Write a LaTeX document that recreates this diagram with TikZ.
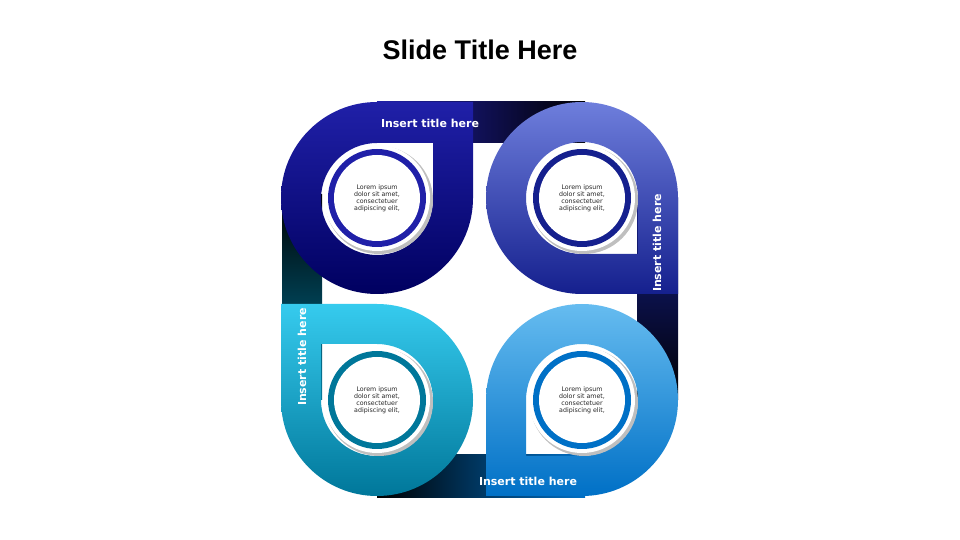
\documentclass[tikz,border=0pt]{standalone}
\usepackage{fontspec}
\setmainfont{DejaVu Sans}
\newfontfamily\headfont{Liberation Sans}
\definecolor{navyA}{HTML}{000060}
\definecolor{navyB}{HTML}{2020A8}
\definecolor{royalA}{HTML}{15208E}
\definecolor{royalB}{HTML}{6E7EDC}
\definecolor{skyA}{HTML}{0070C6}
\definecolor{skyB}{HTML}{66BCF0}
\definecolor{cyanA}{HTML}{00779A}
\definecolor{cyanB}{HTML}{36CBEE}
\tikzset{
  band/.style={draw=none},
  badge/.style={circle,fill=white,minimum size=86pt,inner sep=0pt,align=center,
    font=\fontsize{6.3}{7}\selectfont,text=black!85},
  ttl/.style={text=white,font=\bfseries\fontsize{11}{13}\selectfont}
}
\begin{document}
\begin{tikzpicture}[x=1pt,y=1pt]
\useasboundingbox (0,0) rectangle (960,540);
% Slide title
\node[font=\headfont\bfseries\fontsize{27}{30}\selectfont] (title) at (480,490) {Slide Title Here};
% Connecting bands
\shade[band,left color=navyB,right color=black] (377,397) rectangle (585,438);
\shade[band,top color=royalA,bottom color=black] (637,342) rectangle (678,140);
\shade[band,left color=black,right color=skyA] (377,42) rectangle (585,85);
\shade[band,top color=black,bottom color=cyanA] (282,140) rectangle (322,345);
% Pieces (outer teardrop minus inner teardrop)
\shade[even odd rule,shading angle=225,top color=navyB,bottom color=navyA]
  (473,342) -- (473,438) -- (377,438) arc[start angle=90,end angle=360,radius=96] -- cycle
  (433,342) -- (433,397) -- (377,397) arc[start angle=90,end angle=360,radius=56] -- cycle;
\shade[even odd rule,shading angle=135,top color=royalB,bottom color=royalA]
  (582,246) -- (678,246) -- (678,342) arc[start angle=0,end angle=270,radius=96] -- cycle
  (582,286) -- (638,286) -- (638,342) arc[start angle=0,end angle=270,radius=56] -- cycle;
\shade[even odd rule,shading angle=315,top color=skyB,bottom color=skyA]
  (486,140) -- (486,44) -- (582,44) arc[start angle=270,end angle=540,radius=96] -- cycle
  (526,140) -- (526,84) -- (582,84) arc[start angle=270,end angle=540,radius=56] -- cycle;
\shade[even odd rule,shading angle=45,top color=cyanB,bottom color=cyanA]
  (377,236) -- (281,236) -- (281,140) arc[start angle=180,end angle=450,radius=96] -- cycle
  (377,196) -- (321,196) -- (321,140) arc[start angle=180,end angle=450,radius=56] -- cycle;
% Badges
\foreach \n/\px/\py/\col in {tl/377/342/navyB, tr/582/342/royalA, br/582/140/skyA, bl/377/140/cyanA} {
  \fill[black!25] (\px+2,\py-2) circle[radius=54];
  \fill[white] (\px,\py) circle[radius=53];
  \fill[\col] (\px,\py) circle[radius=49];
  \node[badge] (\n) at (\px,\py) {Lorem ipsum\\dolor sit amet,\\consectetuer\\adipiscing elit,};
}
% Titles
\node[ttl] (ttop) at (430,417) {Insert title here};
\node[ttl,rotate=90] (tright) at (657,297) {Insert title here};
\node[ttl] (tbottom) at (528,59) {Insert title here};
\node[ttl,rotate=90] (tleft) at (302,183) {Insert title here};
\end{tikzpicture}
\end{document}
